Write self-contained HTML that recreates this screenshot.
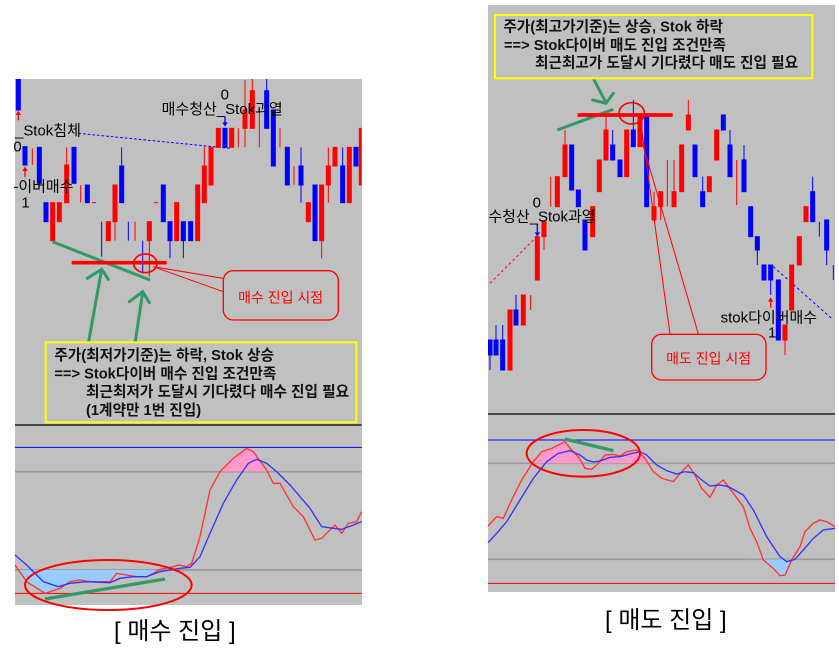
<!DOCTYPE html>
<html><head><meta charset="utf-8"><style>
html,body{margin:0;padding:0;background:#fff;width:839px;height:650px;overflow:hidden}
svg{display:block}
text{font-family:"Liberation Sans","Noto Sans CJK KR",sans-serif}
</style></head><body>
<svg width="839" height="650" viewBox="0 0 839 650" xmlns="http://www.w3.org/2000/svg">
<defs>
<clipPath id="cl"><rect x="45" y="27" width="1040" height="1023"/></clipPath>
<clipPath id="cr"><rect x="24" y="15" width="1041" height="1245"/></clipPath>
<clipPath id="pinkL"><rect x="0" y="0" width="1100" height="185"/></clipPath>
<clipPath id="blueL"><rect x="45" y="480" width="420" height="200"/></clipPath>
<clipPath id="pinkR"><rect x="0" y="0" width="1100" height="190"/></clipPath>
<clipPath id="blueR"><rect x="0" y="478" width="1100" height="200"/></clipPath>
</defs>
<rect x="15" y="79" width="347" height="526" fill="#c0c0c0"/>
<rect x="488" y="5" width="347" height="587" fill="#c0c0c0"/>

<g transform="translate(0,70) scale(0.33333)">
<g clip-path="url(#cl)" stroke-width="3">
<line x1="235" y1="190" x2="690" y2="235" stroke="#0000ff" stroke-width="3" stroke-dasharray="8,6"/>
<g fill="#0000ff" stroke="#0000ff">
<rect x="49" y="0" width="12" height="120"/>
<rect x="69" y="230" width="12" height="55"/>
<rect x="112" y="232" width="12" height="108"/>
<rect x="132" y="398" width="12" height="57"/>
<line x1="222" y1="232" x2="222" y2="340"/><rect x="216" y="232" width="12" height="108"/>
<rect x="256" y="345" width="12" height="53"/>
<line x1="305" y1="455" x2="305" y2="560"/>
<line x1="365" y1="232" x2="365" y2="398"/><rect x="359" y="288" width="12" height="110"/>
<line x1="385" y1="455" x2="385" y2="512"/>
<line x1="428" y1="512" x2="428" y2="610"/>
<rect x="484" y="345" width="12" height="110"/>
<line x1="510" y1="455" x2="510" y2="565"/><rect x="504" y="455" width="12" height="57"/>
<line x1="550" y1="455" x2="550" y2="565"/><rect x="544" y="455" width="12" height="57"/>
<rect x="566" y="455" width="12" height="57"/>
<rect x="669" y="175" width="12" height="57"/>
<line x1="800" y1="20" x2="800" y2="175"/><rect x="794" y="62" width="12" height="113"/>
<rect x="814" y="120" width="12" height="168"/>
<rect x="856" y="232" width="12" height="113"/>
<line x1="903" y1="232" x2="903" y2="398"/><rect x="897" y="288" width="12" height="57"/>
<rect x="939" y="345" width="12" height="167"/>
<line x1="1028" y1="232" x2="1028" y2="398"/><rect x="1022" y="288" width="12" height="110"/>
<rect x="1062" y="232" width="12" height="56"/>
</g>
<g fill="#ff0000" stroke="#ff0000">
<line x1="97" y1="235" x2="97" y2="285"/>
<rect x="152" y="398" width="12" height="114"/>
<rect x="172" y="398" width="12" height="57"/>
<line x1="200" y1="232" x2="200" y2="398"/><rect x="194" y="285" width="12" height="113"/>
<line x1="242" y1="345" x2="242" y2="398"/>
<line x1="276" y1="398" x2="288" y2="398"/>
<rect x="319" y="455" width="12" height="57"/>
<line x1="345" y1="345" x2="345" y2="512"/><rect x="339" y="345" width="12" height="110"/>
<line x1="405" y1="455" x2="405" y2="512"/>
<line x1="448" y1="455" x2="448" y2="620"/><rect x="442" y="455" width="12" height="57"/>
<line x1="462" y1="398" x2="474" y2="398"/>
<rect x="524" y="398" width="12" height="114"/>
<rect x="587" y="345" width="12" height="167"/>
<line x1="613" y1="230" x2="613" y2="398"/><rect x="607" y="288" width="12" height="110"/>
<rect x="627" y="232" width="12" height="113"/>
<rect x="649" y="175" width="12" height="57"/>
<rect x="689" y="175" width="12" height="57"/>
<line x1="715" y1="175" x2="715" y2="232"/>
<line x1="735" y1="30" x2="735" y2="232"/><rect x="729" y="120" width="12" height="55"/>
<line x1="757" y1="20" x2="757" y2="175"/><rect x="751" y="62" width="12" height="113"/>
<line x1="778" y1="120" x2="778" y2="232"/>
<line x1="840" y1="175" x2="840" y2="232"/>
<line x1="882" y1="288" x2="882" y2="345"/>
<rect x="919" y="398" width="12" height="57"/>
<line x1="965" y1="345" x2="965" y2="565"/><rect x="959" y="345" width="12" height="167"/>
<line x1="985" y1="232" x2="985" y2="398"/><rect x="979" y="288" width="12" height="57"/>
<rect x="999" y="232" width="12" height="56"/>
<rect x="1042" y="232" width="12" height="166"/>
<rect x="1078" y="175" width="12" height="170"/>
</g>
<g fill="#ff0000"><polygon points="55,122 47,135 63,135"/><rect x="53" y="133" width="4" height="18"/>
<polygon points="75,290 67,303 83,303"/><rect x="73" y="301" width="4" height="20"/></g>
<g fill="#0000ff"><polygon points="675,170 667,157 683,157"/><rect x="673" y="140" width="4" height="18"/></g>
</g>
<g font-size="45" fill="#000">
<text x="662" y="88">0</text>
<text x="485" y="132">매수청산_Stok과열</text>
<text x="45" y="197">_Stok침체</text>
<text x="40" y="244">0</text>
<text x="40" y="364">-이버매수</text>
<text x="64" y="412">1</text>
</g>
<line x1="157" y1="515" x2="450" y2="630" stroke="#339966" stroke-width="9"/>
<line x1="215" y1="578" x2="500" y2="578" stroke="#ff0000" stroke-width="11"/>
<ellipse cx="436" cy="580" rx="35" ry="28" fill="none" stroke="#ff0000" stroke-width="5"/>
<g stroke="#339966" stroke-width="9" fill="none" stroke-linecap="round">
<line x1="265" y1="820" x2="305" y2="598"/><polyline points="262,625 305,598 325,628"/>
<line x1="405" y1="820" x2="428" y2="668"/><polyline points="388,695 428,665 448,698"/>
</g>
<polyline points="472,592 670,625" stroke="#ff0000" stroke-width="3" fill="none"/>
<polyline points="460,590 670,665" stroke="#ff0000" stroke-width="3" fill="none"/>
<rect x="670" y="602" width="345" height="148" rx="30" fill="#c0c0c0" stroke="#ff0000" stroke-width="4"/>
<text x="842" y="697" font-size="42" fill="#ff0000" text-anchor="middle">매수 진입 시점</text>
<rect x="137" y="817" width="932" height="240" fill="#c0c0c0" stroke="#ffff00" stroke-width="6"/>
<g font-size="44" font-weight="bold" fill="#111">
<text x="163" y="870">주가(최저가기준)는 하락, Stok 상승</text>
<text x="163" y="925">==&gt; Stok다이버 매수 진입 조건만족</text>
<text x="258" y="980">최근최저가 도달시 기다렸다 매수 진입 필요</text>
<text x="258" y="1035">(1계약만 1번 진입)</text>
</g>
</g>

<g transform="translate(0,410) scale(0.33333)">
<line x1="45" y1="45" x2="1085" y2="45" stroke="#000" stroke-width="4"/>
<line x1="45" y1="112" x2="1085" y2="112" stroke="#0000ff" stroke-width="3"/>
<line x1="45" y1="185" x2="1085" y2="185" stroke="#999" stroke-width="5"/>
<line x1="45" y1="480" x2="1085" y2="480" stroke="#999" stroke-width="5"/>
<line x1="45" y1="550" x2="1085" y2="550" stroke="#ff0000" stroke-width="3"/>
<polygon clip-path="url(#pinkL)" fill="#ff99cc" points="660,185 700,145 740,115 760,125 800,185"/>
<polygon clip-path="url(#blueL)" fill="#99ccff" points="45,480 45,465 80,515 135,550 180,535 210,515 240,510 270,515 330,515 350,490 380,495 410,500 440,500 460,490 480,478 480,480"/>
<polyline fill="none" stroke="#ff3333" stroke-width="4" points="45,465 80,515 135,550 180,535 210,515 240,510 270,515 330,515 350,490 380,495 410,500 440,500 460,490 480,478 520,470 535,465 560,470 575,460 600,380 630,240 660,185 700,145 740,115 760,125 800,180 820,220 840,220 880,290 910,320 945,390 965,385 1005,345 1025,370 1045,340 1070,335 1085,305"/>
<polyline fill="none" stroke="#3333ff" stroke-width="4" points="45,435 80,465 130,515 175,530 210,520 260,515 330,518 360,505 400,500 440,500 480,485 540,475 570,472 600,440 630,370 670,280 710,210 745,160 770,148 800,160 830,185 870,225 930,295 965,350 1000,355 1025,358 1060,345 1085,335"/>
<line x1="135" y1="567" x2="495" y2="507" stroke="#339966" stroke-width="10"/>
<ellipse cx="325" cy="525" rx="250" ry="75" fill="none" stroke="#ff0000" stroke-width="6"/>
</g>
<text x="114" y="639" font-size="24" fill="#000">[ 매수 진입 ]</text>

<g transform="translate(480,0) scale(0.33333)">
<g clip-path="url(#cr)" stroke-width="3">
<line x1="30" y1="850" x2="170" y2="710" stroke="#ff0000" stroke-width="3" stroke-dasharray="8,8"/>
<line x1="880" y1="800" x2="1060" y2="960" stroke="#0000ff" stroke-width="3" stroke-dasharray="8,8"/>
<g fill="#0000ff" stroke="#0000ff">
<line x1="30" y1="1020" x2="30" y2="1110"/><rect x="24" y="1020" width="12" height="45"/>
<line x1="48" y1="975" x2="48" y2="1065"/><rect x="42" y="1020" width="12" height="45"/>
<line x1="68" y1="975" x2="68" y2="1110"/><rect x="62" y="1020" width="12" height="90"/>
<line x1="108" y1="885" x2="108" y2="975"/><rect x="102" y="930" width="12" height="45"/>
<rect x="269" y="435" width="12" height="135"/>
<rect x="289" y="570" width="12" height="50"/>
<rect x="309" y="660" width="12" height="90"/>
<line x1="398" y1="390" x2="398" y2="480"/><rect x="392" y="435" width="12" height="45"/>
<rect x="414" y="480" width="12" height="50"/>
<line x1="460" y1="300" x2="460" y2="440"/><rect x="454" y="390" width="12" height="50"/>
<rect x="494" y="345" width="12" height="275"/>
<rect x="639" y="435" width="12" height="95"/>
<line x1="668" y1="530" x2="668" y2="620"/><rect x="662" y="575" width="12" height="45"/>
<rect x="724" y="345" width="12" height="45"/>
<line x1="750" y1="390" x2="750" y2="530"/><rect x="744" y="435" width="12" height="95"/>
<line x1="792" y1="435" x2="792" y2="575"/><rect x="786" y="480" width="12" height="95"/>
<rect x="806" y="620" width="12" height="90"/>
<line x1="832" y1="710" x2="832" y2="795"/><rect x="826" y="710" width="12" height="40"/>
<rect x="846" y="795" width="12" height="45"/>
<line x1="872" y1="795" x2="872" y2="885"/><rect x="866" y="795" width="12" height="45"/>
<rect x="889" y="840" width="12" height="180"/>
<line x1="998" y1="530" x2="998" y2="665"/><rect x="992" y="575" width="12" height="90"/>
<line x1="1018" y1="665" x2="1018" y2="710"/>
<line x1="1040" y1="660" x2="1040" y2="795"/><rect x="1034" y="660" width="12" height="90"/>
<line x1="1060" y1="795" x2="1060" y2="840"/>
</g>
<g fill="#ff0000" stroke="#ff0000">
<rect x="84" y="930" width="12" height="180"/>
<rect x="124" y="885" width="12" height="90"/>
<line x1="152" y1="885" x2="152" y2="930"/>
<rect x="166" y="710" width="12" height="130"/>
<line x1="192" y1="665" x2="192" y2="750"/><rect x="186" y="665" width="12" height="45"/>
<line x1="212" y1="530" x2="212" y2="620"/>
<rect x="226" y="530" width="12" height="90"/>
<line x1="255" y1="390" x2="255" y2="530"/><rect x="249" y="435" width="12" height="95"/>
<rect x="332" y="620" width="12" height="90"/>
<rect x="352" y="480" width="12" height="95"/>
<line x1="378" y1="345" x2="378" y2="480"/><rect x="372" y="390" width="12" height="90"/>
<rect x="434" y="390" width="12" height="140"/>
<rect x="474" y="345" width="12" height="95"/>
<line x1="522" y1="575" x2="522" y2="660"/><rect x="516" y="620" width="12" height="40"/>
<line x1="542" y1="575" x2="542" y2="660"/><rect x="536" y="575" width="12" height="45"/>
<line x1="562" y1="480" x2="562" y2="620"/>
<line x1="582" y1="480" x2="582" y2="620"/><rect x="576" y="575" width="12" height="45"/>
<rect x="599" y="435" width="12" height="140"/>
<line x1="625" y1="300" x2="625" y2="390"/><rect x="619" y="345" width="12" height="45"/>
<rect x="682" y="530" width="12" height="45"/>
<rect x="704" y="390" width="12" height="90"/>
<line x1="770" y1="480" x2="770" y2="615"/>
<line x1="915" y1="975" x2="915" y2="1065"/><rect x="909" y="975" width="12" height="45"/>
<rect x="929" y="795" width="12" height="135"/>
<rect x="952" y="710" width="12" height="85"/>
<rect x="972" y="620" width="12" height="45"/>
</g>
<g fill="#0000ff"><polygon points="172,710 164,697 180,697"/><rect x="170" y="672" width="4" height="26"/></g>
<g fill="#ff0000"><polygon points="872,892 864,905 880,905"/><rect x="870" y="903" width="4" height="20"/></g>
</g>
<g font-size="45" fill="#000">
<text x="158" y="622">0</text>
<text x="25" y="665">수청산_Stok과열</text>
<text x="722" y="967">stok다이버매수</text>
<text x="864" y="1012">1</text>
</g>
<line x1="232" y1="390" x2="400" y2="328" stroke="#339966" stroke-width="9"/>
<line x1="293" y1="345" x2="578" y2="345" stroke="#ff0000" stroke-width="11"/>
<ellipse cx="455" cy="340" rx="38" ry="32" fill="none" stroke="#ff0000" stroke-width="5"/>
<g stroke="#339966" stroke-width="9" fill="none" stroke-linecap="round">
<line x1="338" y1="232" x2="378" y2="308"/><polyline points="338,300 378,310 400,280"/>
</g>
<polyline points="480,350 570,1002" stroke="#ff0000" stroke-width="3" fill="none"/>
<polyline points="480,405 655,1002" stroke="#ff0000" stroke-width="3" fill="none"/>
<rect x="515" y="1003" width="343" height="137" rx="30" fill="#c0c0c0" stroke="#ff0000" stroke-width="4"/>
<text x="686" y="1090" font-size="42" fill="#ff0000" text-anchor="middle">매도 진입 시점</text>
<rect x="45" y="45" width="952" height="190" fill="#c0c0c0" stroke="#ffff00" stroke-width="6"/>
<g font-size="44" font-weight="bold" fill="#111">
<text x="70" y="95">주가(최고가기준)는 상승, Stok 하락</text>
<text x="72" y="150">==&gt; Stok다이버 매도 진입 조건만족</text>
<text x="165" y="203">최근최고가 도달시 기다렸다 매도 진입 필요</text>
</g>
</g>

<g transform="translate(480,400) scale(0.33333)">
<line x1="24" y1="42" x2="1065" y2="42" stroke="#000" stroke-width="4"/>
<line x1="24" y1="120" x2="1065" y2="120" stroke="#0000ff" stroke-width="3"/>
<line x1="24" y1="190" x2="1065" y2="190" stroke="#999" stroke-width="5"/>
<line x1="24" y1="478" x2="1065" y2="478" stroke="#999" stroke-width="5"/>
<line x1="24" y1="550" x2="1065" y2="550" stroke="#ff0000" stroke-width="3"/>
<polygon clip-path="url(#pinkR)" fill="#ff99cc" points="24,190 24,378 50,350 70,355 95,300 125,240 160,185 185,155 215,145 255,125 275,150 295,170 315,205 335,208 350,195 375,165 400,163 420,168 440,155 470,150 495,175 520,215 1065,215 1065,190"/>
<polygon clip-path="url(#blueR)" fill="#99ccff" points="790,478 810,385 830,425 850,480 880,505 900,527 915,525 935,480 945,478"/>
<polyline fill="none" stroke="#ff3333" stroke-width="4" points="24,378 50,350 70,355 95,300 125,240 160,185 185,155 215,145 255,125 275,150 295,170 315,205 335,208 350,195 375,165 400,163 420,168 440,155 470,150 495,175 520,215 545,235 580,245 605,215 625,195 645,225 665,265 690,292 710,255 730,240 760,280 790,320 810,385 830,425 850,480 880,505 900,527 915,525 935,480 960,440 975,395 1000,370 1020,360 1040,365 1065,380"/>
<polyline fill="none" stroke="#3333ff" stroke-width="4" points="24,428 50,400 80,365 120,300 160,235 200,185 235,160 270,152 300,165 320,180 340,186 360,183 390,172 420,170 450,162 480,155 500,165 530,195 560,212 590,222 615,215 640,218 665,240 690,258 720,255 745,260 790,285 820,330 860,410 900,470 920,485 945,478 970,450 1000,415 1030,390 1065,385"/>
<line x1="255" y1="117" x2="400" y2="152" stroke="#339966" stroke-width="10"/>
<ellipse cx="310" cy="160" rx="170" ry="70" fill="none" stroke="#ff0000" stroke-width="6"/>
</g>
<text x="605" y="628" font-size="24" fill="#000">[ 매도 진입 ]</text>
</svg>
</body></html>
